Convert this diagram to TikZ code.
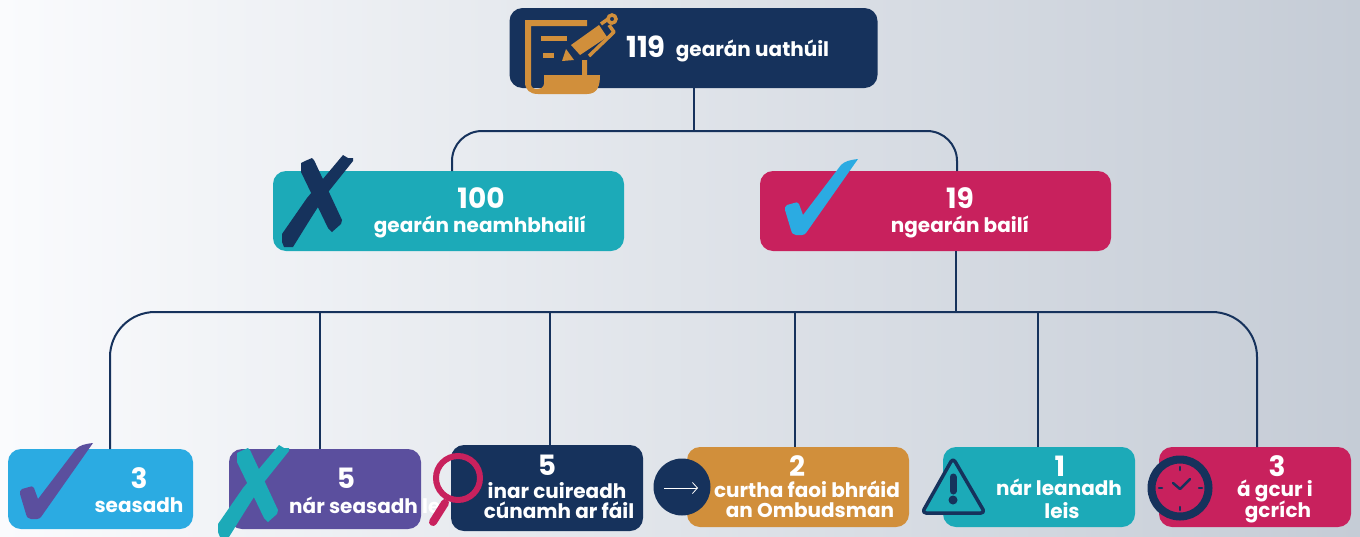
\documentclass[tikz,border=0pt]{standalone}
\usepackage{fontspec}
\setmainfont{Poppins}
\usetikzlibrary{positioning,calc}
\usetikzlibrary{arrows.meta}
\definecolor{navy}{HTML}{16325C}
\definecolor{teal2}{HTML}{1CAAB8}
\definecolor{crimson}{HTML}{C8215D}
\definecolor{skyblue}{HTML}{2BABE2}
\definecolor{violet2}{HTML}{5B4F9E}
\definecolor{ochre}{HTML}{D18F3B}
\tikzstyle{box} = [rectangle,rounded corners=13pt,inner sep=0pt,minimum height=80pt]
\tikzstyle{link} = [navy,line width=2pt]
\tikzstyle{num} = [text=white,font=\fontsize{28}{30}\selectfont\bfseries,inner sep=0pt]
\tikzstyle{lab} = [text=white,font=\fontsize{20}{22}\selectfont\bfseries,inner sep=0pt,yshift=-1.5pt]
\tikzset{
	crossmark/.pic={
		\fill (0,5) -- (4,3) -- (11,0) -- (13,2) -- (41,62) -- (40,66) -- (31,74) -- (27,70) -- (0,14) -- cycle;
		\fill (42,-3) -- (47,0) -- (52,0) -- (52,3) -- (24,38) -- (10,60) -- (-8,89) -- (-17,89) -- (-19,84) -- (-19,76) -- (6,40) -- cycle;
	},
	tickmark/.pic={
		\fill (0,0) .. controls (-8,1) and (-13,2) .. (-17,6) -- (-55,56) -- (-59,45)
			.. controls (-60,43) and (-62,43) .. (-64,44) -- (-71,46)
			.. controls (-73,47) and (-73,49) .. (-73,51) -- (-67,71)
			.. controls (-66,75) and (-65,75) .. (-62,76) -- (-56,76)
			.. controls (-54,76) and (-53,75) .. (-52,74) -- cycle;
	}
}
\begin{document}
\begin{tikzpicture}[x=1pt,y=-1pt]
	\useasboundingbox (0,0) rectangle (1360,536);
	\shade[left color={rgb,255:red,250;green,251;blue,253},right color={rgb,255:red,197;green,204;blue,214}] (0,0) rectangle (1360,536);
	% boxes
	\node[box,fill=navy,minimum width=368pt] (b0) at (693.5,48) {};
	\node[box,fill=teal2,minimum width=351pt] (b1) at (448.5,211) {};
	\node[box,fill=crimson,minimum width=351pt] (b2) at (935.5,211) {};
	\node[box,fill=skyblue,minimum width=185pt] (c1) at (100.5,489) {};
	\node[box,fill=violet2,minimum width=192pt] (c2) at (325,489) {};
	\node[box,fill=navy,minimum width=192pt,minimum height=86pt] (c3) at (547,488) {};
	\node[box,fill=ochre,minimum width=222pt] (c4) at (798,487) {};
	\node[box,fill=teal2,minimum width=192pt] (c5) at (1039,487) {};
	\node[box,fill=crimson,minimum width=192pt] (c6) at (1255,487) {};
	% connectors
	\coordinate (j0) at (693.5,131);
	\coordinate (t1) at (452,171);
	\coordinate (t2) at (957,171);
	\coordinate (j1) at (955.5,312);
	\coordinate (d1) at (110,449);
	\coordinate (d2) at (319.5,449);
	\coordinate (d3) at (549.5,445);
	\coordinate (d4) at (795,447);
	\coordinate (d5) at (1038,447);
	\coordinate (d6) at (1257,447);
	\draw[link] (b0.south) -- (j0);
	\draw[link,rounded corners=30pt] (t1) |- (j0) -| (t2);
	\draw[link] (j1 |- b2.south) -- (j1);
	\draw[link,rounded corners=45pt] (d1) |- (j1) -| (d6);
	\draw[link] (d2) -- (d2 |- j1);
	\draw[link] (d3) -- (d3 |- j1);
	\draw[link] (d4) -- (d4 |- j1);
	\draw[link] (d5) -- (d5 |- j1);
	% texts
	\node[num,font=\fontsize{29}{30}\selectfont\bfseries] (n0) at (646,47) {119};
	\node[lab] (l0) at (752.5,49) {gearán uathúil};
	\node[num] (n1) at (481,198) {100};
	\node[lab] (l1) at (480,225) {gearán neamhbhailí};
	\node[num] (n2) at (960,198) {19};
	\node[lab] (l2) at (960,225) {ngearán bailí};
	\node[num] (n3) at (139,478) {3};
	\node[lab] (l3) at (139,504) {seasadh};
	\node[num] (n4) at (346,478) {5};
	\node[lab,anchor=west] (l4) at (289,504) {nár seasadh le};
	\node[num] (n5) at (547,465) {5};
	\node[lab] (l5) at (557,489) {inar cuireadh};
	\node[lab] (l6) at (559,509) {cúnamh ar fáil};
	\node[num] (n6) at (797,466) {2};
	\node[lab] (l7) at (807,488) {curtha faoi bhráid};
	\node[lab] (l8) at (810,509) {an Ombudsman};
	\node[num] (n7) at (1060,466) {1};
	\node[lab] (l9) at (1059,486) {nár leanadh};
	\node[lab] (l10) at (1062,509) {leis};
	\node[num] (n8) at (1277,466) {3};
	\node[lab] (l11) at (1275,489) {á gcur i};
	\node[lab] (l12) at (1278,510) {gcrích};
	% marks
	\path (301,158) pic[fill=navy] {crossmark};
	\path (237,448) pic[fill=teal2] {crossmark};
	\path (858,159) pic[fill=skyblue] {tickmark};
	\path (93,443) pic[fill=violet2] {tickmark};
	% scroll and pencil
	\begin{scope}[ochre]
		\fill (525,20) -- (587,20) -- (587,26) -- (531,26) -- (531,84) .. controls (531,91) and (543,91) .. (544,84) -- (544,75) -- (582,75) -- (582,60) -- (587,60) -- (587,75) -- (600,75) .. controls (600,85) and (598,94) .. (587,94) -- (538,94) .. controls (530,94) and (525,90) .. (525,82) -- cycle;
		\fill (541,36) rectangle (567,41);
		\fill (543,53) rectangle (554,58);
		\fill (571,45) -- (599,25) -- (607,37) -- (580,55) -- cycle;
		\fill (562,61) -- (566,49) -- (574,60) -- cycle;
		\draw[line width=3.5pt] (612,19) circle (4pt);
		\draw[line width=3.5pt] (601,24) -- (608,19);
		\draw[line width=3.5pt,line join=round] (609,25) -- (614,32) -- (589,56);
	\end{scope}
	% magnifier
	\draw[crimson,line width=8pt,line cap=round] (445,503) -- (433,522);
	\draw[crimson,line width=6pt] (458,478) circle (22pt);
	% arrow disc
	\node[circle,fill=navy,minimum size=57pt,inner sep=0pt] (a0) at (682,487) {};
	\coordinate (a1) at (664,488);
	\coordinate (a2) at (698,488);
	\draw[white,line width=0.8pt,-{Straight Barb[length=5pt,width=11pt]}] (a1) -- (a2);
	% warning sign
	\draw[navy,fill=teal2,line width=3.5pt,line join=round,rounded corners=4pt] (953,458) -- (985,513) -- (922,513) -- cycle;
	\draw[navy,line width=7pt,line cap=round] (953,477) -- (953,491);
	\fill[navy] (953,500) circle (4.5pt);
	% clock
	\draw[navy,fill=crimson,line width=8pt] (1180,488) circle (28.5pt);
	\draw[navy,line width=2.5pt,line cap=round]
		(1180,467) -- (1180,470)
		(1180,507) -- (1180,510)
		(1159,488) -- (1162,488)
		(1199,488) -- (1202,488);
	\draw[navy,line width=2.5pt,line cap=round,line join=round] (1173,483) -- (1180,489) -- (1190,479);
\end{tikzpicture}
\end{document}
